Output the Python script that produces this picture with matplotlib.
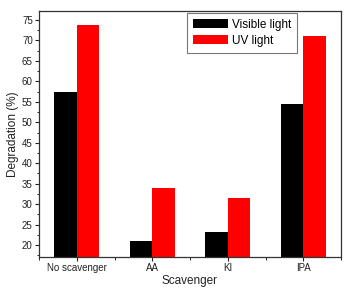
import matplotlib
matplotlib.use("Agg")
import matplotlib.pyplot as plt
import numpy as np
from matplotlib.ticker import MultipleLocator

plt.rcParams['font.family'] = ['Liberation Sans', 'DejaVu Sans']

categories = ["No scavenger", "AA", "KI", "IPA"]
visible = [57.3, 20.9, 23.3, 54.5]
uv = [73.8, 34.0, 31.5, 71.0]

fig = plt.figure(figsize=(3.47, 2.88), dpi=100)
ax = fig.add_axes([39/347, 31/288, 302/347, 246/288])
x = np.arange(len(categories))
w = 0.3
ax.bar(x - w/2, visible, w, color='black', label='Visible light')
ax.bar(x + w/2, uv, w, color='red', label='UV light')
ax.set_xlim(-0.5, 3.5)
ax.set_ylim(17.1, 77.2)
ax.set_xticks(x)
ax.set_xticklabels(categories, fontsize=7, color='#222222')
ax.xaxis.set_minor_locator(MultipleLocator(0.5))
ax.yaxis.set_major_locator(MultipleLocator(5))
ax.yaxis.set_minor_locator(MultipleLocator(2.5))
ax.tick_params(axis='both', which='major', direction='out', length=3, width=0.8, labelsize=7, pad=1.5, colors='#222222')
ax.tick_params(axis='both', which='minor', direction='out', length=1.8, width=0.6)
for s in ax.spines.values():
    s.set_linewidth(0.9)
    s.set_color('#333333')
ax.set_ylabel("Degradation (%)", fontsize=8.5, labelpad=2, color='#222222')
ax.set_xlabel("Scavenger", fontsize=8.5, labelpad=1, color='#222222')
leg = ax.legend(loc='upper right', bbox_to_anchor=(0.854, 0.992), fontsize=8.5, frameon=True,
                fancybox=False, edgecolor='#555555', handlelength=2.9, handleheight=0.8,
                borderpad=0.5, labelspacing=0.35, handletextpad=0.35, borderaxespad=0.0)
leg.get_frame().set_linewidth(0.8)
fig.savefig("out.png", dpi=100)
